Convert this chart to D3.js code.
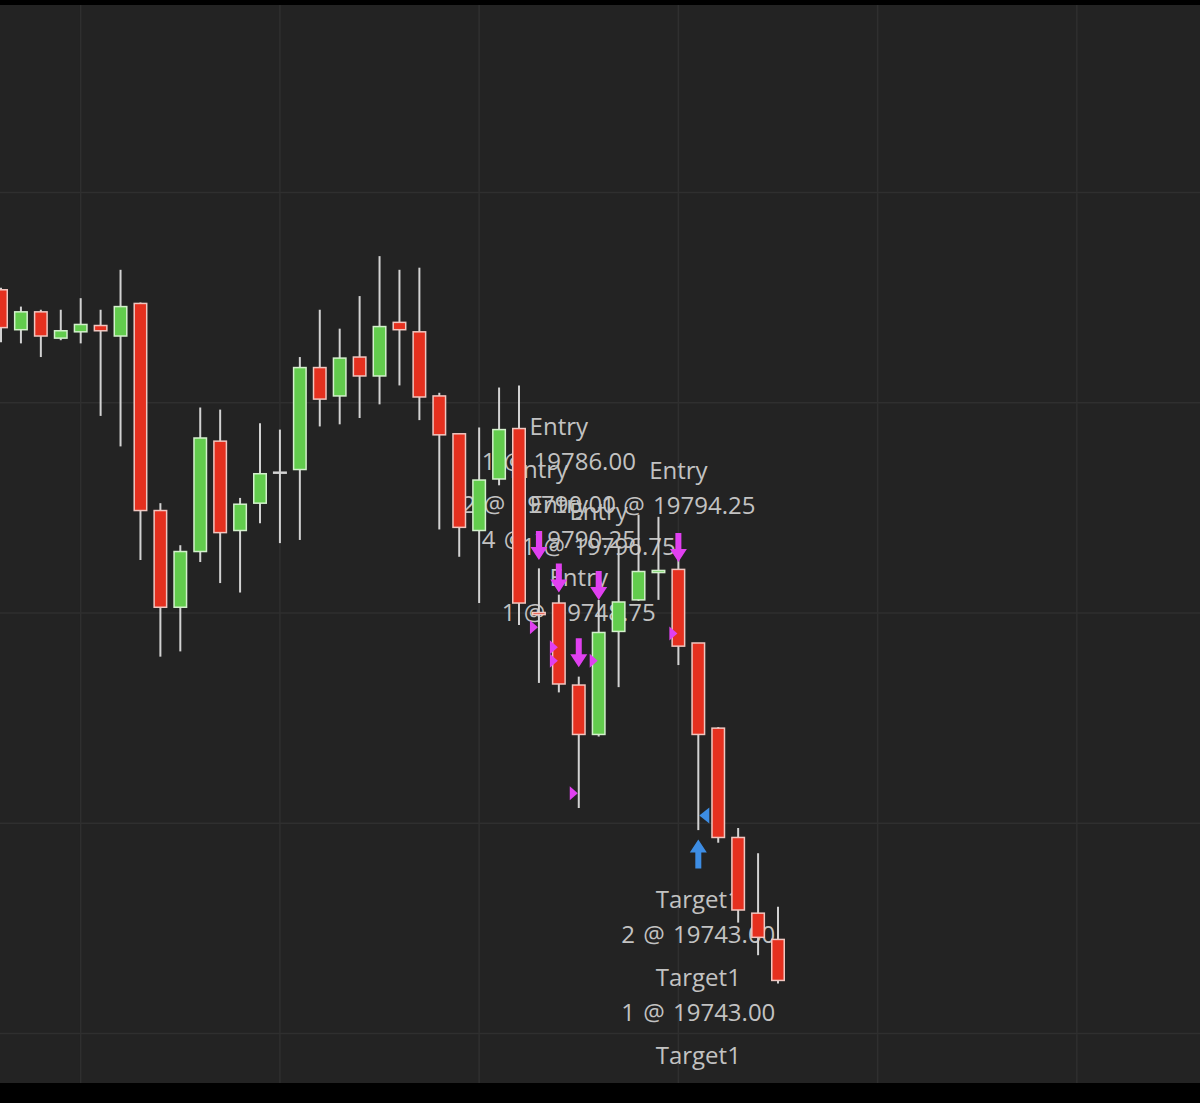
<!DOCTYPE html>
<html>
<head>
<meta charset="utf-8">
<script src="https://cdn.jsdelivr.net/npm/d3@7"></script>
<style>
  html, body { margin: 0; padding: 0; background: #000; }
  svg { display: block; }
</style>
</head>
<body>
<div id="chart"></div>
<script>
// bars, oldest to newest (only the index is visible on the picture)
var bars = d3.range(40);
var opens = [19876.75, 19867.25, 19871.5, 19865.25, 19866.75, 19868.25, 19865.75, 19873.5, 19824.25, 19801.25,
             19814.5, 19840.75, 19819.5, 19826, 19833.25, 19834, 19858.25, 19851.5, 19860.75, 19856.25,
             19869, 19866.75, 19851.5, 19842.5, 19819.5, 19831.75, 19843.75, 19800, 19802.25, 19782.75,
             19771, 19795.5, 19803, 19809.5, 19810.25, 19792.75, 19772.5, 19746.5, 19728.5, 19722.25];
var highs = [19877.25, 19872.75, 19872, 19872, 19874.75, 19872, 19881.5, 19873.75, 19826, 19816,
             19848.75, 19848.25, 19827.25, 19845, 19843.5, 19860.75, 19872, 19867.5, 19875.25, 19884.75,
             19881.5, 19882, 19852.25, 19842.5, 19844, 19853.5, 19854, 19810.5, 19804.25, 19784.75,
             19803, 19815.5, 19823.25, 19822.75, 19812.5, 19792.75, 19772.75, 19748.75, 19742.75, 19730];
var lows = [19864.25, 19864, 19860.75, 19864.75, 19864, 19846.75, 19839.5, 19812.5, 19789.5, 19790.75,
            19812, 19807, 19804.75, 19821.25, 19816.5, 19817.25, 19844.25, 19844.75, 19846.25, 19849.5,
            19854, 19845.75, 19819.75, 19813.25, 19802.25, 19830.25, 19797, 19783.25, 19781, 19753.5,
            19770.5, 19782.25, 19802.75, 19803, 19787.5, 19748.25, 19745.25, 19726.25, 19718.5, 19711.75];
var closes = [19867.75, 19871.5, 19865.75, 19867, 19868.5, 19867, 19872.75, 19824.25, 19801.25, 19814.5,
              19841.5, 19819, 19825.75, 19833, 19833.25, 19858.25, 19850.75, 19860.5, 19856.25, 19868,
              19867.25, 19851.25, 19842.25, 19820.25, 19831.5, 19843.5, 19802.25, 19799.5, 19783, 19771,
              19795.25, 19802.5, 19809.75, 19810, 19792, 19771, 19746.5, 19729.25, 19722.75, 19712.5];

// grid
var grid_bars = [4, 14, 24, 34, 44, 54];
var grid_prices = [19700, 19750, 19800, 19850, 19900];

// entry signals (down arrows, tip price) and fills (right-pointing triangles)
var entry_arrow_bars = [27, 28, 29, 30, 34];
var entry_arrow_prices = [19812.5, 19804.75, 19787, 19803, 19812];
var entry_fill_bars = [27, 28, 28, 30, 34, 29];
var entry_fill_prices = [19796.5, 19791.75, 19788.5, 19788.5, 19795, 19757];
// exit signal (up arrow, tip price) and fill (left-pointing triangle)
var exit_arrow_bars = [35];
var exit_arrow_prices = [19746];
var exit_fill_bars = [35];
var exit_fill_prices = [19751.75];

// execution labels
var label_bars = [28, 27, 28, 30, 34, 29, 35, 35, 35];
var label_titles = ['Entry', 'Entry', 'Entry', 'Entry', 'Entry', 'Entry', 'Target1', 'Target1', 'Target1'];
var label_fills = ['1 @ 19786.00', '2 @ 19790.00', '4 @ 19790.25', '1 @ 19796.75', '1 @ 19794.25',
                   '1 @ 19748.75', '2 @ 19743.00', '1 @ 19743.00', ''];
var label_prices = [19844.25, 19834, 19825.75, 19824, 19833.75, 19808.25, 19731.75, 19713.25, 19694.75];

var width = 1200, height = 1103;
var plot_top = 5, plot_bottom = 1083;
var colors = {
    bg: '#232323', grid: '#2f2f2f', wick: '#d2d2d2', text: '#c2c2c2',
    up: '#62cc4d', up_edge: '#d3f0cc', down: '#e5301f', down_edge: '#f0c6c0',
    entry: '#e040f0', exit: '#3d8de4'
};

var x = d3.scaleLinear().domain([0, 39]).range([1, 778]);
var y = d3.scaleLinear().domain([19700, 19900]).range([1033, 192]);

var svg = d3.select('#chart').append('svg')
    .attr('width', width).attr('height', height);

svg.append('rect').attr('width', width).attr('height', height).attr('fill', '#000');
svg.append('defs').append('clipPath').attr('id', 'plot-clip')
  .append('rect').attr('x', 0).attr('y', plot_top)
    .attr('width', width).attr('height', plot_bottom - plot_top);

var plot = svg.append('g').attr('clip-path', 'url(#plot-clip)');
plot.append('rect').attr('x', 0).attr('y', plot_top)
    .attr('width', width).attr('height', plot_bottom - plot_top)
    .attr('fill', colors.bg);

// grid lines drawn with axes, no labels
var xgrid = plot.append('g')
    .attr('transform', 'translate(-0.5,' + plot_bottom + ')')
    .call(d3.axisBottom(x).tickValues(grid_bars).tickSize(-(plot_bottom - plot_top)).tickFormat(''));
var ygrid = plot.append('g')
    .call(d3.axisLeft(y).tickValues(grid_prices).tickSize(-width).tickFormat(''));
[xgrid, ygrid].forEach(function (g) {
    g.select('.domain').remove();
    g.selectAll('line').attr('stroke', colors.grid).attr('stroke-width', 1.5);
});

// labels sit behind the candles
var labels = label_bars.map(function (b, i) {
    return { bar: b, title: label_titles[i], fill: label_fills[i], price: label_prices[i] };
});
var lab = plot.append('g')
    .attr('font-family', '"Open Sans", "Noto Sans", sans-serif')
    .attr('font-size', 24)
    .attr('fill', colors.text)
    .attr('text-anchor', 'middle')
    .style('word-spacing', '2px')
  .selectAll('g').data(labels).enter().append('g');
lab.append('text')
    .attr('x', function (d) { return x(d.bar); })
    .attr('y', function (d) { return y(d.price); })
    .attr('dy', '0.36em')
    .text(function (d) { return d.title; });
lab.filter(function (d) { return d.fill; }).append('text')
    .attr('x', function (d) { return x(d.bar); })
    .attr('y', function (d) { return y(d.price) + 35; })
    .attr('dy', '0.36em')
    .text(function (d) { return d.fill; });

// candles
var candles = bars.map(function (i) {
    return { i: i, o: opens[i], h: highs[i], l: lows[i], c: closes[i] };
});
var cg = plot.append('g').selectAll('g').data(candles).enter().append('g');
cg.append('line')
    .attr('x1', function (d) { return x(d.i); })
    .attr('x2', function (d) { return x(d.i); })
    .attr('y1', function (d) { return y(d.h); })
    .attr('y2', function (d) { return y(d.l); })
    .attr('stroke', colors.wick).attr('stroke-width', 2);
cg.filter(function (d) { return d.o !== d.c; }).append('rect')
    .attr('x', function (d) { return x(d.i) - 6.25; })
    .attr('width', 12.5)
    .attr('y', function (d) { return y(Math.max(d.o, d.c)); })
    .attr('height', function (d) { return Math.max(1, Math.abs(y(d.o) - y(d.c))); })
    .attr('fill', function (d) { return d.c > d.o ? colors.up : colors.down; })
    .attr('stroke', function (d) { return d.c > d.o ? colors.up_edge : colors.down_edge; })
    .attr('stroke-width', 1.5);
cg.filter(function (d) { return d.o === d.c; }).append('line')
    .attr('x1', function (d) { return x(d.i) - 7; })
    .attr('x2', function (d) { return x(d.i) + 7; })
    .attr('y1', function (d) { return y(d.o); })
    .attr('y2', function (d) { return y(d.o); })
    .attr('stroke', colors.wick).attr('stroke-width', 2.5);

// markers on top
var down_arrow = 'M0,0 L-8.5,-13 L-3,-13 L-3,-29 L3,-29 L3,-13 L8.5,-13 Z';
var up_arrow = 'M0,0 L-8.5,13 L-3,13 L-3,29 L3,29 L3,13 L8.5,13 Z';
var marks = plot.append('g');
marks.selectAll('path.entry-arrow')
    .data(entry_arrow_bars.map(function (b, i) { return [b, entry_arrow_prices[i]]; }))
    .enter().append('path')
    .attr('class', 'entry-arrow')
    .attr('d', down_arrow)
    .attr('transform', function (d) { return 'translate(' + x(d[0]) + ',' + y(d[1]) + ')'; })
    .attr('fill', colors.entry);
marks.selectAll('path.exit-arrow')
    .data(exit_arrow_bars.map(function (b, i) { return [b, exit_arrow_prices[i]]; }))
    .enter().append('path')
    .attr('class', 'exit-arrow')
    .attr('d', up_arrow)
    .attr('transform', function (d) { return 'translate(' + x(d[0]) + ',' + y(d[1]) + ')'; })
    .attr('fill', colors.exit);
marks.selectAll('path.entry-fill')
    .data(entry_fill_bars.map(function (b, i) { return [b, entry_fill_prices[i]]; }))
    .enter().append('path')
    .attr('class', 'entry-fill')
    .attr('d', 'M-9,-7 L-1,0 L-9,7 Z')
    .attr('transform', function (d) { return 'translate(' + x(d[0]) + ',' + y(d[1]) + ')'; })
    .attr('fill', colors.entry);
marks.selectAll('path.exit-fill')
    .data(exit_fill_bars.map(function (b, i) { return [b, exit_fill_prices[i]]; }))
    .enter().append('path')
    .attr('class', 'exit-fill')
    .attr('d', 'M11,-8 L1,0 L11,8 Z')
    .attr('transform', function (d) { return 'translate(' + x(d[0]) + ',' + y(d[1]) + ')'; })
    .attr('fill', colors.exit);
</script>
</body>
</html>
